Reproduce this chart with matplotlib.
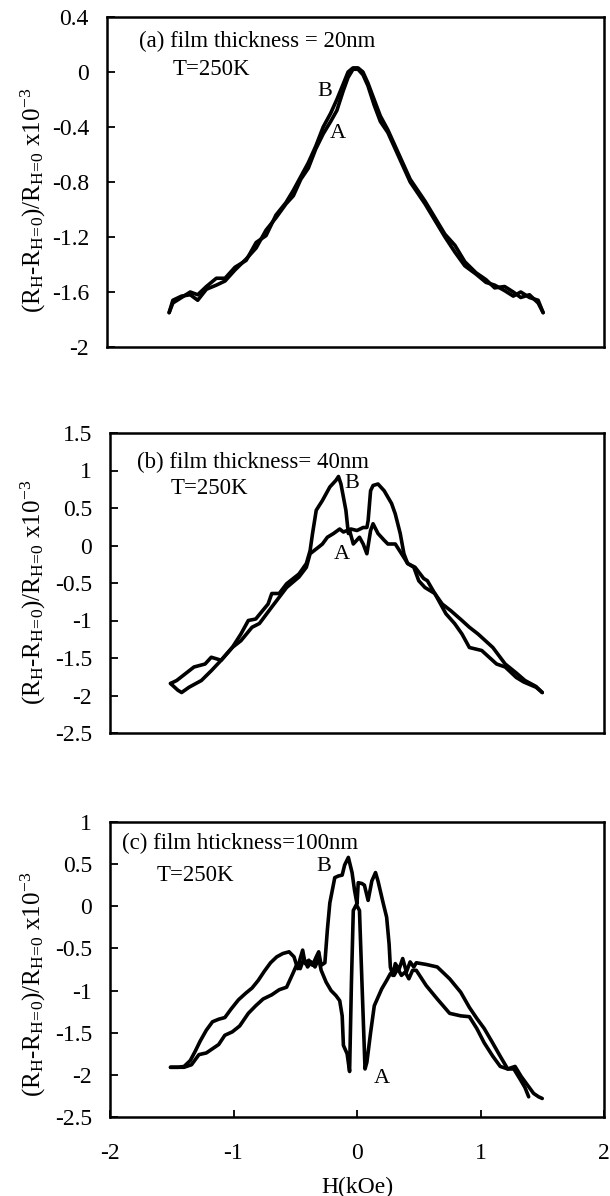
import matplotlib
matplotlib.use("Agg")
import matplotlib.pyplot as plt

plt.rcParams['font.family'] = ['Liberation Serif', 'DejaVu Serif']
plt.rcParams['mathtext.fontset'] = 'custom'
plt.rcParams['mathtext.rm'] = 'Liberation Serif'
plt.rcParams['mathtext.it'] = 'Liberation Serif:italic'

# ---------------- panel (a): 20 nm ----------------
a_A_x = [-1.50, -1.47, -1.40, -1.33, -1.27, -1.20, -1.12, -1.05, -0.97, -0.88, -0.80, -0.72,
         -0.64, -0.56, -0.50, -0.44, -0.38, -0.32, -0.26, -0.20, -0.15, -0.10, -0.06, -0.02,
         0.02, 0.06, 0.10, 0.15, 0.20, 0.26, 0.32, 0.38, 0.44, 0.50, 0.56, 0.64, 0.72, 0.80,
         0.88, 0.97, 1.05, 1.12, 1.20, 1.27, 1.33, 1.40, 1.47, 1.51]
a_A_y = [-1.75, -1.66, -1.63, -1.62, -1.66, -1.58, -1.55, -1.52, -1.44, -1.36, -1.28, -1.15,
         -1.06, -0.96, -0.90, -0.78, -0.70, -0.56, -0.45, -0.36, -0.28, -0.14, -0.04, 0.02,
         0.02, -0.02, -0.10, -0.24, -0.36, -0.44, -0.56, -0.68, -0.80, -0.88, -0.96, -1.08,
         -1.20, -1.31, -1.41, -1.47, -1.53, -1.55, -1.59, -1.63, -1.60, -1.64, -1.66, -1.75]
a_B_x = a_A_x
a_B_y = [-1.75, -1.68, -1.64, -1.60, -1.62, -1.56, -1.50, -1.50, -1.42, -1.37, -1.24, -1.19,
         -1.04, -0.95, -0.86, -0.76, -0.66, -0.54, -0.40, -0.30, -0.20, -0.09, 0.00, 0.03,
         0.03, 0.00, -0.08, -0.20, -0.32, -0.42, -0.54, -0.66, -0.78, -0.86, -0.94, -1.06,
         -1.18, -1.26, -1.38, -1.46, -1.51, -1.57, -1.56, -1.60, -1.64, -1.62, -1.68, -1.75]

# ---------------- panel (b): 40 nm ----------------
b_A_x = [-1.51, -1.45, -1.42, -1.36, -1.26, -1.18, -1.10, -1.01, -0.94, -0.85, -0.79, -0.69,
         -0.63, -0.57, -0.47, -0.41, -0.38, -0.31, -0.28, -0.24, -0.19, -0.14, -0.11, -0.08,
         -0.05, 0.00, 0.05, 0.08, 0.09, 0.11, 0.13, 0.17, 0.22, 0.28, 0.31, 0.35, 0.38, 0.41,
         0.46, 0.50, 0.55, 0.63, 0.66, 0.72, 0.79, 0.85, 0.91, 1.01, 1.07, 1.13, 1.20, 1.29,
         1.35, 1.45, 1.50]
b_A_y = [-1.84, -1.93, -1.96, -1.89, -1.80, -1.67, -1.53, -1.36, -1.27, -1.09, -1.04, -0.82,
         -0.69, -0.56, -0.42, -0.29, -0.11, -0.02, 0.02, 0.11, 0.16, 0.22, 0.18, 0.20,
         0.22, 0.20, 0.24, 0.24, 0.33, 0.73, 0.80, 0.82, 0.73, 0.56, 0.42, 0.16, -0.11, -0.24,
         -0.29, -0.47, -0.56, -0.64, -0.73, -0.91, -1.04, -1.18, -1.36, -1.40, -1.49, -1.58,
         -1.62, -1.76, -1.82, -1.89, -1.96]
b_B_x = [-1.51, -1.46, -1.39, -1.32, -1.23, -1.18, -1.10, -1.01, -0.94, -0.88, -0.82, -0.72,
         -0.69, -0.63, -0.57, -0.47, -0.41, -0.38, -0.36, -0.33, -0.28, -0.22, -0.17, -0.15,
         -0.13, -0.09, -0.07, -0.06, -0.03, 0.02, 0.05, 0.08, 0.11, 0.13, 0.17, 0.22, 0.25,
         0.31, 0.38, 0.41, 0.47, 0.54, 0.57, 0.63, 0.69, 0.76, 0.85, 0.91, 0.98, 1.04, 1.10,
         1.20, 1.29, 1.36, 1.45, 1.50]
b_B_y = [-1.84, -1.80, -1.71, -1.62, -1.58, -1.49, -1.53, -1.36, -1.18, -1.00, -0.98, -0.78,
         -0.64, -0.64, -0.51, -0.38, -0.24, -0.07, 0.16, 0.47, 0.60, 0.78, 0.87, 0.92,
         0.82, 0.47, 0.16, 0.20, 0.02, 0.11, 0.02, -0.11, 0.20, 0.29, 0.16, 0.07, 0.02,
         0.02, -0.16, -0.24, -0.29, -0.44, -0.47, -0.64, -0.78, -0.87, -1.00, -1.09, -1.18,
         -1.27, -1.36, -1.58, -1.70, -1.80, -1.88, -1.96]

# ---------------- panel (c): 100 nm ----------------
c_A_x = [-1.51, -1.45, -1.40, -1.34, -1.28, -1.22, -1.16, -1.12, -1.07, -1.01, -0.95, -0.88,
         -0.82, -0.76, -0.69, -0.63, -0.57, -0.52, -0.49, -0.46, -0.43, -0.40, -0.37, -0.34,
         -0.31, -0.29, -0.25, -0.21, -0.17, -0.14, -0.12, -0.11, -0.08, -0.06, -0.045, -0.03,
         -0.005, 0.02, 0.04, 0.065, 0.08, 0.11, 0.14, 0.17, 0.20, 0.24, 0.27, 0.30, 0.33, 0.36,
         0.39, 0.42, 0.45, 0.48, 0.56, 0.65, 0.75, 0.84, 0.91, 0.97, 1.03, 1.10, 1.16, 1.22,
         1.27, 1.32, 1.36, 1.39]
c_A_y = [-1.91, -1.91, -1.91, -1.88, -1.76, -1.74, -1.68, -1.64, -1.53, -1.49, -1.42, -1.27,
         -1.18, -1.10, -1.05, -0.99, -0.96, -0.80, -0.70, -0.74, -0.62, -0.72, -0.66, -0.72,
         -0.62, -0.76, -0.90, -1.00, -1.06, -1.12, -1.30, -1.65, -1.75, -1.96, -0.90, -0.05,
         0.02, -0.05, -0.90, -1.93, -1.85, -1.50, -1.18, -1.08, -0.98, -0.88, -0.80, -0.82,
         -0.74, -0.82, -0.78, -0.86, -0.76, -0.76, -0.94, -1.10, -1.27, -1.30, -1.31, -1.45,
         -1.62, -1.78, -1.90, -1.93, -1.93, -2.05, -2.15, -2.26]
c_B_x = [-1.51, -1.45, -1.40, -1.35, -1.31, -1.27, -1.22, -1.17, -1.12, -1.07, -1.02, -0.96,
         -0.90, -0.85, -0.80, -0.75, -0.70, -0.65, -0.60, -0.55, -0.51, -0.48, -0.46, -0.44,
         -0.42, -0.39, -0.36, -0.33, -0.31, -0.29, -0.26, -0.24, -0.22, -0.18, -0.15, -0.12,
         -0.10, -0.07, -0.04, -0.02, 0.00, 0.01, 0.04, 0.06, 0.09, 0.12, 0.15, 0.17, 0.21,
         0.24, 0.26, 0.27, 0.29, 0.31, 0.34, 0.37, 0.40, 0.43, 0.46,
         0.48, 0.56, 0.65, 0.75, 0.84, 0.91, 0.97, 1.03, 1.09, 1.16, 1.22, 1.28, 1.33, 1.38,
         1.43, 1.47, 1.50]
c_B_y = [-1.91, -1.91, -1.90, -1.83, -1.72, -1.60, -1.47, -1.37, -1.34, -1.32, -1.22, -1.11,
         -1.03, -0.97, -0.88, -0.77, -0.67, -0.60, -0.56, -0.54, -0.60, -0.74, -0.62, -0.52,
         -0.68, -0.64, -0.70, -0.60, -0.54, -0.70, -0.67, -0.28, 0.04, 0.34, 0.36, 0.37,
         0.49, 0.58, 0.40, 0.19, 0.03, 0.28, 0.27, 0.25, 0.07, 0.30, 0.40, 0.30, 0.05,
         -0.13, -0.45, -0.72, -0.82, -0.68, -0.75, -0.62, -0.78, -0.66, -0.72,
         -0.67, -0.69, -0.72, -0.86, -1.02, -1.20, -1.33, -1.45, -1.60, -1.78, -1.93, -1.90,
         -2.02, -2.12, -2.22, -2.26, -2.28]

panels = [
    dict(pos=[107/610, 1-347/1196, 497/610, 330/1196], ylim=(-2, 0.4),
         yticks=[0.4, 0, -0.4, -0.8, -1.2, -1.6, -2],
         yticklabels=['0.4', '0', '-0.4', '-0.8', '-1.2', '-1.6', '-2'],
         A=(a_A_x, a_A_y), B=(a_B_x, a_B_y),
         title='(a) film thickness = 20nm', title_xy=(-1.74, 0.22), T_xy=(-1.47, 0.02),
         Bxy=(-0.25, -0.14), Axy=(-0.14, -0.45), lab=(-0.149, 0.445)),
    dict(pos=[110/610, 1-733/1196, 494/610, 300/1196], ylim=(-2.5, 1.5),
         yticks=[1.5, 1, 0.5, 0, -0.5, -1, -1.5, -2, -2.5],
         yticklabels=['1.5', '1', '0.5', '0', '-0.5', '-1', '-1.5', '-2', '-2.5'],
         A=(b_A_x, b_A_y), B=(b_B_x, b_B_y),
         title='(b) film thickness= 40nm', title_xy=(-1.78, 1.11), T_xy=(-1.51, 0.76),
         Bxy=(-0.04, 0.82), Axy=(-0.12, -0.12), lab=(-0.156, 0.467)),
    dict(pos=[110/610, 1-1117/1196, 494/610, 295/1196], ylim=(-2.5, 1),
         yticks=[1, 0.5, 0, -0.5, -1, -1.5, -2, -2.5],
         yticklabels=['1', '0.5', '0', '-0.5', '-1', '-1.5', '-2', '-2.5'],
         A=(c_A_x, c_A_y), B=(c_B_x, c_B_y),
         title='(c) film hticknes=100nm'.replace('hticknes', 'hticknes' + 's'),
         title_xy=(-1.90, 0.75), T_xy=(-1.62, 0.37),
         Bxy=(-0.27, 0.47), Axy=(0.20, -2.04), lab=(-0.156, 0.45)),
]

xticks = [-2, -1, 0, 1, 2]
xticklabels = ['-2', '-1', '0', '1', '2']

fig = plt.figure(figsize=(6.10, 11.96), dpi=100)
ylabel = (r'(R$_{\mathrm{H}}$-R$_{\mathrm{H}\!=\!\mathrm{0}}$)/'
          r'R$_{\mathrm{H}\!=\!\mathrm{0}}$ x10$^{-3}$')

for i, p in enumerate(panels):
    ax = fig.add_axes(p['pos'])
    ax.plot(*p['A'], color='black', lw=2.6, solid_joinstyle='round', solid_capstyle='round')
    ax.plot(*p['B'], color='black', lw=2.6, solid_joinstyle='round', solid_capstyle='round')
    ax.set_xlim(-2, 2)
    ax.set_ylim(*p['ylim'])
    ax.set_yticks(p['yticks'])
    ax.set_yticklabels(p['yticklabels'], fontsize=17)
    ax.tick_params(axis='y', direction='in', length=6, width=1.3, pad=13)
    for s in ax.spines.values():
        s.set_linewidth(1.8)
    if i == 2:
        ax.set_xticks(xticks)
        ax.set_xticklabels(xticklabels, fontsize=17)
        ax.tick_params(axis='x', direction='in', length=5, width=1.3, pad=19)
        ax.set_xlabel('H(kOe)', fontsize=17, labelpad=9)
    else:
        ax.set_xticks([])
    ax.set_ylabel(ylabel, fontsize=18)
    ax.yaxis.set_label_coords(*p['lab'])
    ax.yaxis.label.set_va('center')
    ax.text(*p['title_xy'], p['title'], fontsize=16.5, va='center', ha='left')
    ax.text(*p['T_xy'], 'T=250K', fontsize=16.5, va='center', ha='left')
    ax.text(*p['Bxy'], 'B', fontsize=16, va='center', ha='center')
    ax.text(*p['Axy'], 'A', fontsize=16, va='center', ha='center')

fig.savefig('out.png', dpi=100)
